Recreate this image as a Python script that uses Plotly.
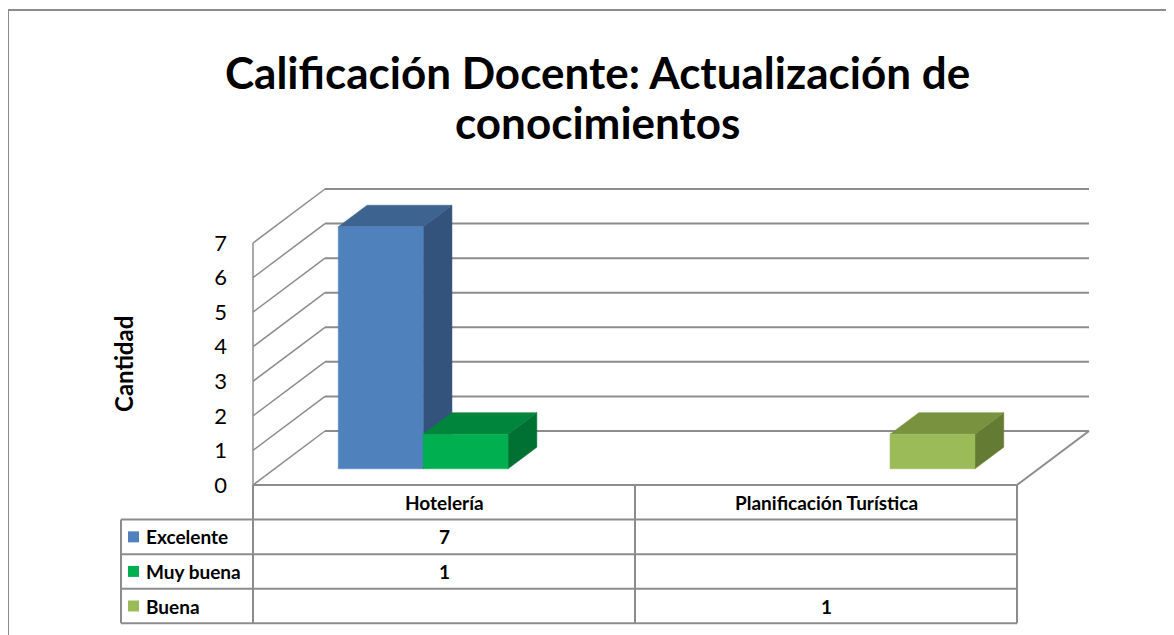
import plotly.graph_objects as go

categories = ["Hotelería", "Planificación Turística"]
series_names = ["Excelente", "Muy buena", "Buena"]
excelente = [7, None]
muy_buena = [1, None]
buena = [None, 1]
y_ticks = [0, 1, 2, 3, 4, 5, 6, 7]

front_colors = ["#4F81BD", "#00B050", "#9BBB59"]
top_colors = ["#3D6390", "#00853C", "#78923F"]
side_colors = ["#33537D", "#007133", "#647B34"]

W, H = 1174, 635
OFF = 8                        # page body margin
X0_PX, X_UNIT = 253, 382.0     # front-left corner of the floor (page px), px per category
Y0_PX, Y_UNIT = 485, 34.57     # front floor line (page px), px per unit
DX = 72 / X_UNIT               # depth offset of the back wall
DY = 54 / Y_UNIT
GRID = "#8c8c8c"
FONT = "Lato"
DOM_PX = 232


def paper_x(p):
    return (p - OFF) / W


def paper_y(p):
    return 1 - (p - OFF) / H


def val_y(p):
    return (Y0_PX - p) / Y_UNIT


def data_px(x):
    return X0_PX + (x + 0.5) * X_UNIT


values = [excelente, muy_buena, buena]
n_series = len(series_names)
slot = 1 / (n_series + 1.5)

fig = go.Figure()

# bars as three faces (side, top, front)
for ci in range(len(categories)):
    for si in range(n_series):
        v = values[si][ci]
        if v is None:
            continue
        xl = ci - n_series * slot / 2 + si * slot + 0.3 * DX
        xr = xl + slot
        b = 0.3 * DY
        t = v + b
        dd, ddy = 0.4 * DX, 0.4 * DY
        faces = [
            ([xr, xr + dd, xr + dd, xr, xr], [b, b + ddy, t + ddy, t, b], side_colors[si]),
            ([xl, xr, xr + dd, xl + dd, xl], [t, t, t + ddy, t + ddy, t], top_colors[si]),
            ([xl, xr, xr, xl, xl], [b, b, t, t, b], front_colors[si]),
        ]
        for fx, fy, col in faces:
            fig.add_trace(go.Scatter(x=fx, y=fy, mode="lines", fill="toself",
                                     fillcolor=col, line=dict(color=col, width=0.5),
                                     hoverinfo="skip", showlegend=False))

shapes = []
# walls and gridlines
for v in y_ticks:
    shapes.append(dict(type="line", xref="x", yref="y", layer="below",
                       x0=-0.5 + DX, x1=len(categories) - 0.5 + DX, y0=v + DY, y1=v + DY,
                       line=dict(color=GRID, width=2)))
    shapes.append(dict(type="line", xref="x", yref="y", layer="below",
                       x0=-0.5, x1=-0.5 + DX, y0=v, y1=v + DY,
                       line=dict(color=GRID, width=1.5)))
shapes.append(dict(type="line", xref="x", yref="y", layer="below",
                   x0=-0.5, x1=-0.5, y0=0, y1=max(y_ticks),
                   line=dict(color=GRID, width=1.5)))
shapes.append(dict(type="line", xref="x", yref="y", layer="below",
                   x0=len(categories) - 0.5, x1=len(categories) - 0.5 + DX, y0=0, y1=DY,
                   line=dict(color=GRID, width=2)))

# data table
left_px = 121
right_px = data_px(len(categories) - 0.5)
n_rows = len(series_names)
shapes.append(dict(type="line", xref="paper", yref="y",
                   x0=paper_x(X0_PX), x1=paper_x(right_px), y0=0, y1=0,
                   line=dict(color=GRID, width=2)))
for r in range(1, n_rows + 2):
    shapes.append(dict(type="line", xref="paper", yref="y",
                       x0=paper_x(left_px), x1=paper_x(right_px), y0=-r, y1=-r,
                       line=dict(color=GRID, width=2)))
shapes.append(dict(type="line", xref="paper", yref="y",
                   x0=paper_x(left_px), x1=paper_x(left_px), y0=-1, y1=-(n_rows + 1),
                   line=dict(color=GRID, width=2)))
for ci in range(len(categories) + 1):
    xp = data_px(ci - 0.5)
    shapes.append(dict(type="line", xref="paper", yref="y",
                       x0=paper_x(xp), x1=paper_x(xp), y0=0, y1=-(n_rows + 1),
                       line=dict(color=GRID, width=2)))

annotations = []
for ci, cat in enumerate(categories):
    annotations.append(dict(x=ci, y=-0.5, xref="x", yref="y", text="<b>%s</b>" % cat,
                            xanchor="center", yanchor="middle", showarrow=False,
                            font=dict(family=FONT, size=19, color="black")))
for si, name in enumerate(series_names):
    yc = -(si + 1.5)
    half = 5.5 / Y_UNIT
    shapes.append(dict(type="rect", xref="paper", yref="y",
                       x0=paper_x(128), x1=paper_x(139), y0=yc - half, y1=yc + half,
                       fillcolor=front_colors[si], line=dict(width=0)))
    annotations.append(dict(x=paper_x(144), y=yc, xref="paper", yref="y",
                            text="<b>%s</b>" % name, xanchor="left", yanchor="middle",
                            showarrow=False, font=dict(family=FONT, size=19, color="black")))
    for ci in range(len(categories)):
        v = values[si][ci]
        if v is None:
            continue
        annotations.append(dict(x=ci, y=yc, xref="x", yref="y", text="<b>%d</b>" % v,
                                xanchor="center", yanchor="middle", showarrow=False,
                                font=dict(family=FONT, size=19, color="black")))

# title (two lines) and axis title
for txt, yc in [("Calificación Docente: Actualización de", 72), ("conocimientos", 122)]:
    annotations.append(dict(x=paper_x(597), y=paper_y(yc), xref="paper", yref="paper",
                            text="<b>%s</b>" % txt, xanchor="center", yanchor="middle",
                            showarrow=False, font=dict(family=FONT, size=44, color="black")))
annotations.append(dict(x=paper_x(123), y=val_y(364), xref="paper", yref="y",
                        text="<b>Cantidad</b>", textangle=-90, xanchor="center",
                        yanchor="middle", showarrow=False,
                        font=dict(family=FONT, size=24, color="black")))

# outer chart border
shapes.append(dict(type="rect", xref="paper", yref="paper",
                   x0=paper_x(8), x1=paper_x(W + 20), y0=paper_y(10), y1=paper_y(H + 20),
                   line=dict(color=GRID, width=2)))

fig.update_layout(
    width=W, height=H,
    margin=dict(l=0, r=0, t=0, b=0),
    paper_bgcolor="white", plot_bgcolor="white",
    showlegend=False,
    shapes=shapes,
    annotations=annotations,
    xaxis=dict(domain=[paper_x(DOM_PX), 1], visible=False, fixedrange=True,
               range=[-0.5 - (X0_PX - DOM_PX) / X_UNIT,
                      -0.5 + (W + OFF - X0_PX) / X_UNIT]),
    yaxis=dict(domain=[0, 1], range=[val_y(H + OFF), val_y(OFF)],
               tickvals=y_ticks, showgrid=False, zeroline=False, showline=False,
               ticks="", ticklabelstandoff=4, fixedrange=True,
               tickfont=dict(family=FONT, size=22, color="black")),
)

fig.write_html("out.html")
